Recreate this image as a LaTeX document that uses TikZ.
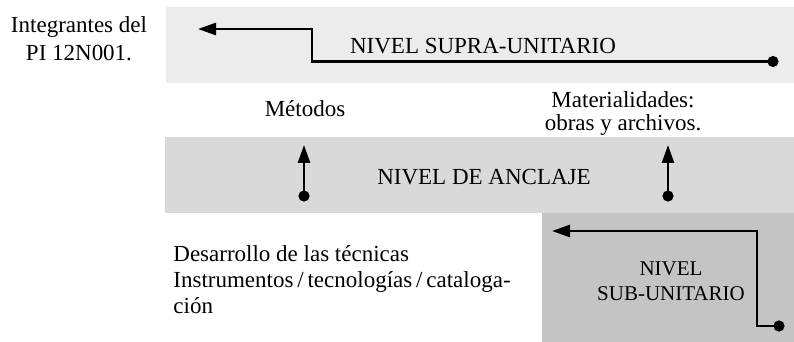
\documentclass[tikz,border=0pt]{standalone}
\usepackage{fontspec}
\setmainfont{Liberation Serif}
\usetikzlibrary{arrows.meta}

\definecolor{supragray}{gray}{0.925}
\definecolor{anclajegray}{gray}{0.85}
\definecolor{subgray}{gray}{0.77}

\begin{document}
\begin{tikzpicture}[x=0.5pt,y=-0.5pt,
    lbl/.style={inner sep=0pt,align=center,font=\fontsize{11.5}{13}\selectfont},
    flow/.style={line width=1.3pt,{Circle[length=5.5pt]}-{Triangle[length=9pt,width=6pt]}}]
   \useasboundingbox (0,0) rectangle (794,342);
   % bands
   \fill[supragray] (166,7.5) rectangle (794,83);
   \fill[anclajegray] (165,137.5) rectangle (794,213);
   \fill[subgray] (542,213) rectangle (794,342);
   % labels
   \node[lbl,anchor=north,font=\fontsize{11.5}{14}\selectfont] (integ) at (79,16) {Integrantes del\\PI 12N001.};
   \node[lbl,anchor=base] (supra) at (483,54) {NIVEL SUPRA-UNITARIO};
   \node[lbl,anchor=base] (metodos) at (305,117) {Métodos};
   \node[lbl,anchor=north,font=\fontsize{11.5}{11.3}\selectfont] (mater) at (623,91.5) {Materialidades:\\obras y archivos.};
   \node[lbl,anchor=base] (anclaje) at (484,185) {NIVEL DE ANCLAJE};
   \node[lbl,anchor=north west,align=left] (tecnicas) at (173,245)
      {Desarrollo de las técnicas\\Instrumentos\,/\,tecnologías\,/\,cataloga-\\ción};
   \node[lbl,anchor=north,font=\fontsize{10.5}{12.5}\selectfont] (sub) at (671,261) {NIVEL\\SUB-UNITARIO};
   % connectors
   \coordinate (supra-a) at (778.5,61.5);
   \coordinate (supra-k) at (312,29);
   \coordinate (supra-b) at (198,29);
   \coordinate (met-a) at (304,201.5);
   \coordinate (met-b) at (304,145);
   \coordinate (mat-a) at (668,201.5);
   \coordinate (mat-b) at (668,145);
   \coordinate (sub-a) at (784.5,326);
   \coordinate (sub-k) at (757,231);
   \coordinate (sub-b) at (552,231);
   \draw[flow] (supra-a) -| (supra-k) -- (supra-b);
   \draw[flow] (met-a) -- (met-b);
   \draw[flow] (mat-a) -- (mat-b);
   \draw[flow] (sub-a) -| (sub-k) -- (sub-b);
\end{tikzpicture}
\end{document}
